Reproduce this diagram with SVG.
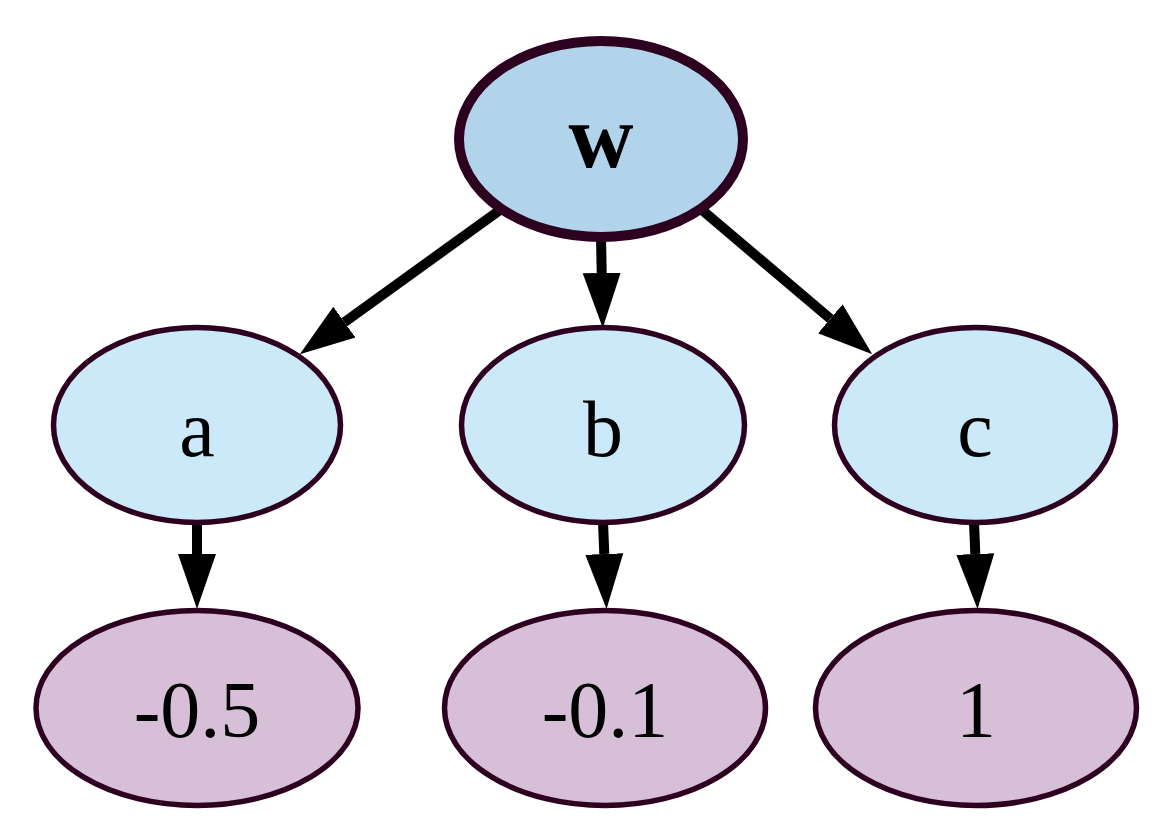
<svg xmlns="http://www.w3.org/2000/svg" width="1169" height="840" viewBox="0 0 1169 840">
<style>
.node ellipse{stroke:#2e0020;stroke-width:5.5}
.root ellipse{fill:#b2d4ea;stroke-width:10}
.mid ellipse{fill:#cbe9f8}
.leaf ellipse{fill:#d8bfd8}
text{font-family:"Liberation Serif","DejaVu Serif",serif;font-size:80px;fill:#000;text-anchor:middle}
.root text{font-weight:bold;font-size:90px}
.edge{stroke:#000;stroke-width:10;fill:none;marker-end:url(#ah)}
</style>
<defs>
<marker id="ah" markerUnits="userSpaceOnUse" markerWidth="56" markerHeight="40" refX="0" refY="19" orient="auto" viewBox="0 0 56 38">
<path d="M0,0 L55,19 L0,38 z" fill="#000"/>
</marker>
</defs>
<rect width="1169" height="840" fill="#fff"/>
<g id="connectors">
<line class="edge" x1="500" y1="210" x2="344.4" y2="322.2"/>
<line class="edge" x1="601" y1="236" x2="601.7" y2="273"/>
<line class="edge" x1="702" y1="210" x2="830.3" y2="318.8"/>
<line class="edge" x1="197" y1="522" x2="197" y2="554"/>
<line class="edge" x1="603" y1="522" x2="604.3" y2="554"/>
<line class="edge" x1="974" y1="522" x2="975.3" y2="554"/>
</g>
<g id="node-w" class="node root">
<ellipse cx="601" cy="139" rx="142" ry="98"/>
<text x="601" y="167">w</text>
</g>
<g id="node-a" class="node mid">
<ellipse cx="197" cy="425" rx="143.5" ry="97.5"/>
<text x="197" y="456">a</text>
</g>
<g id="node-b" class="node mid">
<ellipse cx="603" cy="425" rx="141.5" ry="97.5"/>
<text x="603" y="456">b</text>
</g>
<g id="node-c" class="node mid">
<ellipse cx="975" cy="425" rx="140.5" ry="97.5"/>
<text x="975" y="456">c</text>
</g>
<g id="node-m05" class="node leaf">
<ellipse cx="197" cy="708" rx="161" ry="97.5"/>
<text x="197" y="737">-0.5</text>
</g>
<g id="node-m01" class="node leaf">
<ellipse cx="605" cy="708" rx="160.5" ry="97.5"/>
<text x="605" y="737">-0.1</text>
</g>
<g id="node-1" class="node leaf">
<ellipse cx="976" cy="708" rx="160.5" ry="97.5"/>
<text x="976" y="737">1</text>
</g>
</svg>
